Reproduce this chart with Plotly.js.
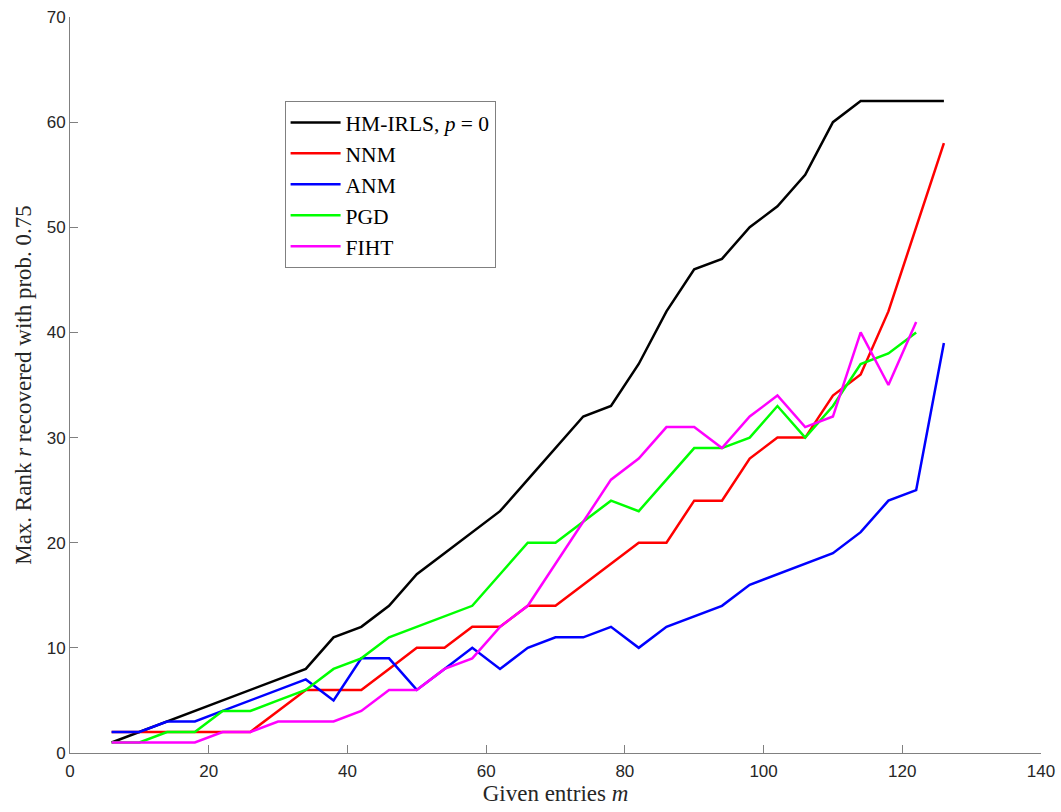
<!DOCTYPE html>
<html>
<head>
<meta charset="utf-8">
<script src="https://cdn.plot.ly/plotly-3.0.1.min.js"></script>
<style>html,body{margin:0;padding:0;background:#fff;}#chart{width:1061px;height:812px;}</style>
</head>
<body>
<div id="chart"></div>
<script>
const m = [6,10,14,18,22,26,30,34,38,42,46,50,54,58,62,66,70,74,78,82,86,90,94,98,102,106,110,114,118,122,126];
const hmirls = [1,2,3,4,5,6,7,8,11,12,14,17,19,21,23,26,29,32,33,37,42,46,47,50,52,55,60,62,62,62,62];
const nnm    = [2,2,2,2,2,2,4,6,6,6,8,10,10,12,12,14,14,16,18,20,20,24,24,28,30,30,34,36,42,50,58];
const anm    = [2,2,3,3,4,5,6,7,5,9,9,6,8,10,8,10,11,11,12,10,12,13,14,16,17,18,19,21,24,25,39];
const pgd    = [1,1,2,2,4,4,5,6,8,9,11,12,13,14,17,20,20,22,24,23,26,29,29,30,33,30,33,37,38,40];
const fiht   = [1,1,1,1,2,2,3,3,3,4,6,6,8,9,12,14,18,22,26,28,31,31,29,32,34,31,32,40,35,41];
const names  = ['HM-IRLS, <i>p</i> = 0','NNM','ANM','PGD','FIHT'];
const colors = ['#000000','#ff0000','#0000ff','#00ff00','#ff00ff'];
const series = [hmirls, nnm, anm, pgd, fiht];

const traces = series.map((ys, i) => ({
  x: m.slice(0, ys.length),
  y: ys,
  type: 'scatter',
  mode: 'lines',
  name: names[i],
  line: {color: colors[i], width: 2.5}
}));

const serif = 'Liberation Serif, Times New Roman, serif';
const axisCommon = {
  showline: true, linecolor: '#808080', linewidth: 1,
  ticks: 'inside', tickcolor: '#808080', ticklen: 8, tickwidth: 1,
  showgrid: false, zeroline: false, mirror: false,
  tickfont: {family: 'Liberation Sans, Arial, sans-serif', size: 17, color: '#262626'}
};

const layout = {
  width: 1061, height: 812,
  margin: {l: 70, r: 20, t: 17, b: 59},
  paper_bgcolor: '#ffffff', plot_bgcolor: '#ffffff',
  showlegend: true,
  xaxis: Object.assign({}, axisCommon, {
    range: [0, 140], dtick: 20, tick0: 0,
    ticklabelstandoff: 3,
    title: {text: 'Given entries <i>m</i>', font: {family: serif, size: 23, color: '#262626'}, standoff: 4}
  }),
  yaxis: Object.assign({}, axisCommon, {
    range: [0, 70], dtick: 10, tick0: 0,
    title: {text: 'Max. Rank <i>r</i> recovered with prob. 0.75', font: {family: serif, size: 23, color: '#262626'}, standoff: 8}
  }),
  legend: {
    x: 0.221, y: 0.886, xanchor: 'left', yanchor: 'top',
    bgcolor: '#ffffff', bordercolor: '#808080', borderwidth: 1,
    font: {family: serif, size: 21.5, color: '#000000'},
    itemwidth: 50,
    tracegroupgap: 0
  }
};

Plotly.newPlot('chart', traces, layout, {displayModeBar: false, staticPlot: true});
</script>
</body>
</html>
